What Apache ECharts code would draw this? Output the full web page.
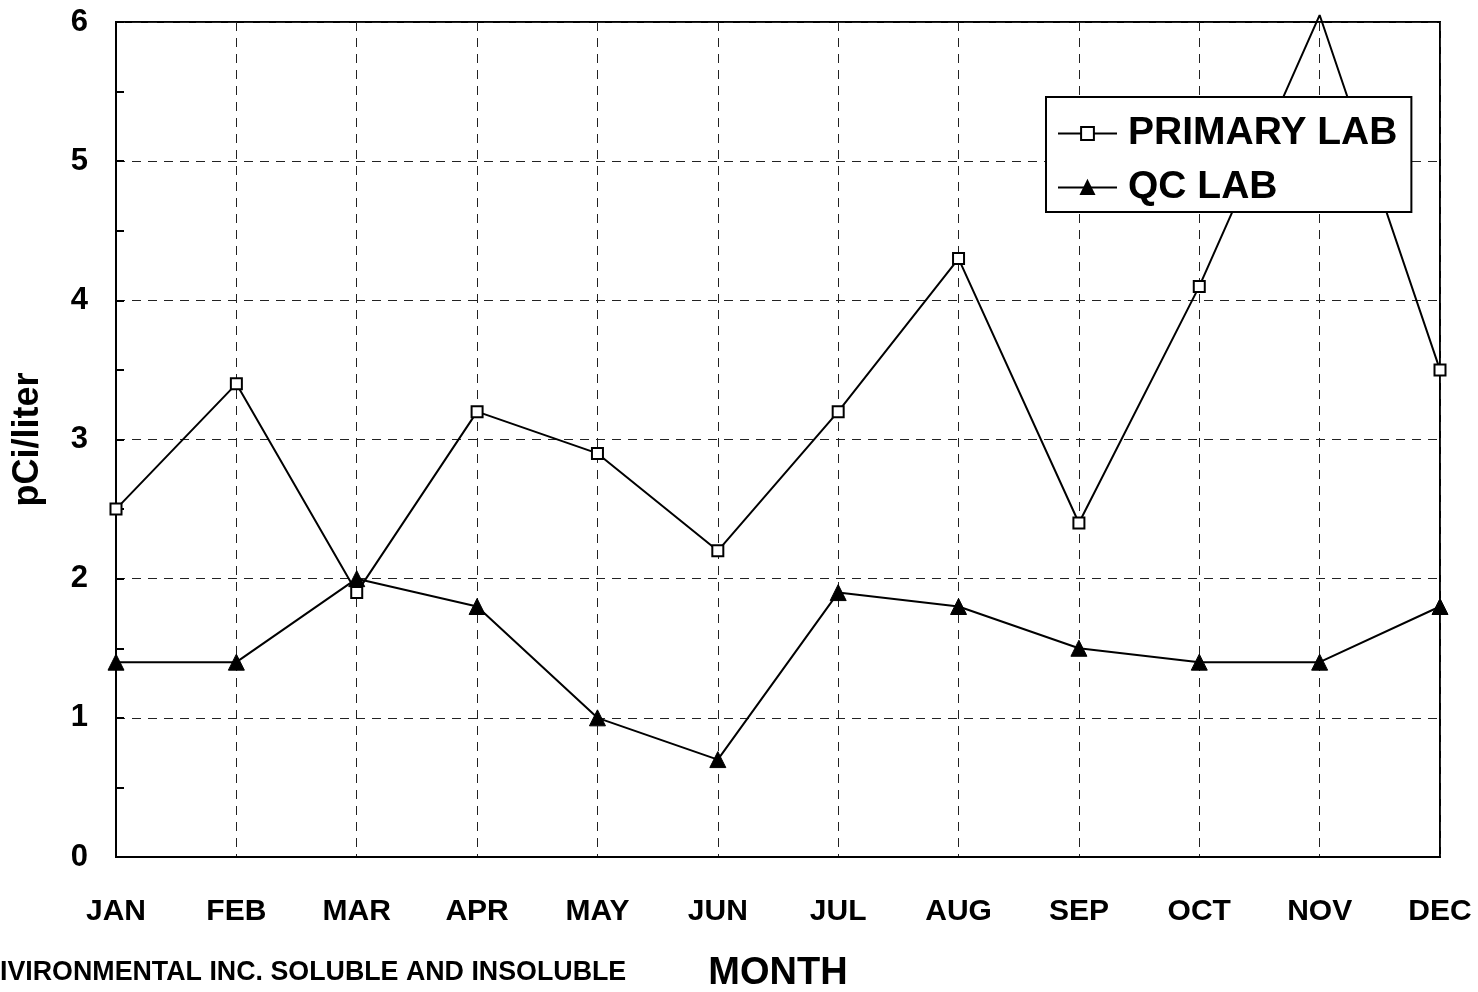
<!DOCTYPE html>
<html>
<head>
<meta charset="utf-8">
<script src="https://cdn.jsdelivr.net/npm/echarts@6/dist/echarts.min.js"></script>
<style>html,body{margin:0;padding:0;background:#fff}#c{width:1478px;height:992px}</style>
</head>
<body>
<div id="c"></div>
<script>
const months = ['JAN','FEB','MAR','APR','MAY','JUN','JUL','AUG','SEP','OCT','NOV','DEC'];
const primaryLab = [2.5, 3.4, 1.9, 3.2, 2.9, 2.2, 3.2, 4.3, 2.4, 4.1, 6.05, 3.5];
const qcLab = [1.4, 1.4, 2.0, 1.8, 1.0, 0.7, 1.9, 1.8, 1.5, 1.4, 1.4, 1.8];
const yMin = 0, yMax = 6, yStep = 1;

const FONT = '"Liberation Sans", Arial, sans-serif';
const chart = echarts.init(document.getElementById('c'));
const toData = arr => arr.map(v => v > yMax ? {value: v, symbol: 'none'} : v);

chart.setOption({
  animation: false,
  backgroundColor: '#fff',
  grid: {left: 116, right: 38, top: 22, bottom: 135, show: true, borderColor: '#000', borderWidth: 2,
         containLabel: false, outerBoundsMode: 'none'},
  legend: {
    left: 1046, top: 97, orient: 'vertical',
    backgroundColor: '#fff', borderColor: '#000', borderWidth: 2,
    padding: [17, 14, 5, 11], itemGap: 15, itemWidth: 59, itemHeight: 16,
    textStyle: {fontFamily: FONT, fontWeight: 'bold', fontSize: 39, color: '#000', padding: [0, 0, 0, 6]},
    data: ['PRIMARY LAB', 'QC LAB']
  },
  xAxis: {
    type: 'category', data: months, boundaryGap: false,
    name: 'MONTH', nameLocation: 'middle', nameGap: 98,
    nameTextStyle: {fontFamily: FONT, fontWeight: 'bold', fontSize: 38, color: '#000', verticalAlign: 'top'},
    axisLine: {lineStyle: {color: '#000', width: 2}},
    axisTick: {show: false},
    axisLabel: {margin: 40, fontFamily: FONT, fontWeight: 'bold', fontSize: 30, color: '#000', interval: 0},
    splitLine: {show: true, lineStyle: {color: '#222', type: [9, 7], width: 1}}
  },
  yAxis: {
    type: 'value', min: yMin, max: yMax, interval: yStep,
    name: 'pCi/liter', nameLocation: 'middle', nameGap: 70, nameRotate: 90,
    nameTextStyle: {fontFamily: FONT, fontWeight: 'bold', fontSize: 36, color: '#000'},
    axisLine: {show: true, lineStyle: {color: '#000', width: 2}},
    axisTick: {show: true, inside: true, length: 8, lineStyle: {color: '#000', width: 2}},
    minorTick: {show: true, splitNumber: 2, length: 8, lineStyle: {color: '#000', width: 2}},
    axisLabel: {margin: 28, fontFamily: FONT, fontWeight: 'bold', fontSize: 31, color: '#000'},
    splitLine: {show: true, lineStyle: {color: '#222', type: [9, 7], width: 1}}
  },
  series: [
    {
      name: 'PRIMARY LAB', type: 'line', data: toData(primaryLab), clip: false,
      symbol: 'rect', symbolSize: 11,
      lineStyle: {color: '#000', width: 2},
      itemStyle: {color: '#fff', borderColor: '#000', borderWidth: 2},
      z: 3
    },
    {
      name: 'QC LAB', type: 'line', data: toData(qcLab), clip: false,
      symbol: 'triangle', symbolSize: 16,
      lineStyle: {color: '#000', width: 2},
      itemStyle: {color: '#000', borderColor: '#000', borderWidth: 1},
      z: 3
    }
  ],
  graphic: [
    {type: 'text', left: 0, top: 959, style: {text: 'IVIRONMENTAL INC. SOLUBLE AND INSOLUBLE', fontFamily: FONT, fontWeight: 'bold', fontSize: 26.8, fill: '#000'}}
  ]
});
</script>
</body>
</html>
